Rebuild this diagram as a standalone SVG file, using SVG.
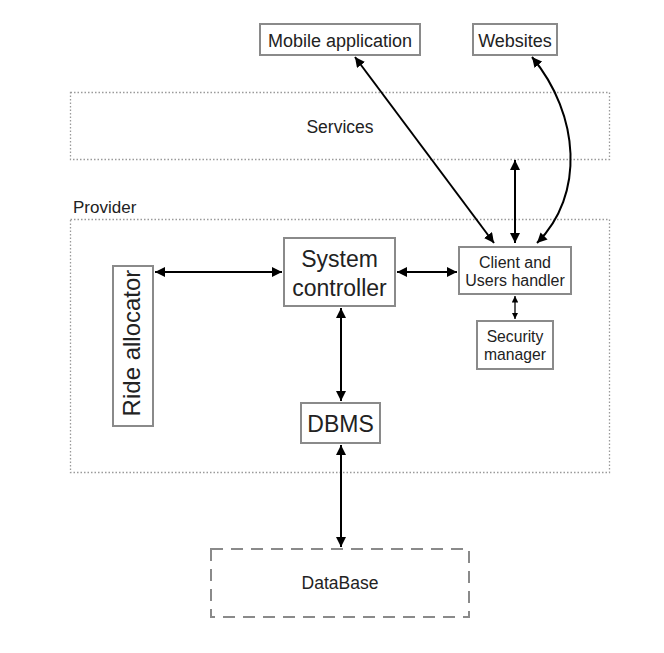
<svg xmlns="http://www.w3.org/2000/svg" width="664" height="653" viewBox="0 0 664 653">
<style>
.box{fill:#fff;stroke:#8a8a8a;stroke-width:2}
.dot{fill:none;stroke:#9a9a9a;stroke-width:1.3;stroke-dasharray:1.5 2}
.dash{fill:none;stroke:#8a8a8a;stroke-width:2;stroke-dasharray:12 8}
.t{font-family:"Liberation Sans",Arial,sans-serif;fill:#222;text-anchor:middle}
.c{fill:none;stroke:#000;stroke-width:2}
.cs{fill:none;stroke:#000;stroke-width:1.3}
</style>
<defs>
<marker id="a" viewBox="0 0 10 10" refX="10" refY="5" markerWidth="5" markerHeight="5" orient="auto-start-reverse" markerUnits="strokeWidth">
<path d="M0,0 L10,5 L0,10 z" fill="#000"/>
</marker>
<marker id="as" viewBox="0 0 10 10" refX="10" refY="5" markerWidth="5" markerHeight="5" orient="auto-start-reverse" markerUnits="strokeWidth">
<path d="M0,0 L10,5 L0,10 z" fill="#000"/>
</marker>
</defs>
<rect width="664" height="653" fill="#fff"/>
<g id="services">
<rect class="dot" x="70.5" y="92.5" width="539" height="67"/>
<text class="t" x="340" y="133" font-size="17.5">Services</text>
</g>
<g id="provider">
<rect class="dot" x="70.5" y="219.5" width="539" height="253"/>
<text class="t" x="73" y="213" font-size="17" style="text-anchor:start">Provider</text>
</g>
<g id="mobile">
<rect class="box" x="260" y="24" width="160" height="31"/>
<text class="t" x="340" y="47" font-size="18">Mobile application</text>
</g>
<g id="websites">
<rect class="box" x="473" y="24" width="84" height="31"/>
<text class="t" x="515" y="47" font-size="18">Websites</text>
</g>
<g id="system-controller">
<rect class="box" x="284" y="238" width="111" height="68"/>
<text class="t" x="339.5" y="267" font-size="23">System</text>
<text class="t" x="339.5" y="296" font-size="23">controller</text>
</g>
<g id="ride-allocator">
<rect class="box" x="113" y="266" width="40" height="160"/>
<text class="t" font-size="24" transform="translate(140,343) rotate(-90)">Ride allocator</text>
</g>
<g id="client">
<rect class="box" x="459" y="247" width="112" height="47"/>
<text class="t" x="515" y="268" font-size="16">Client and</text>
<text class="t" x="515" y="286" font-size="16">Users handler</text>
</g>
<g id="security">
<rect class="box" x="477" y="321" width="76" height="48"/>
<text class="t" x="515" y="342" font-size="15.7">Security</text>
<text class="t" x="515" y="360" font-size="15.7">manager</text>
</g>
<g id="dbms">
<rect class="box" x="301" y="403" width="79" height="40"/>
<text class="t" x="340.5" y="432" font-size="23">DBMS</text>
</g>
<g id="database">
<rect class="dash" x="211" y="549" width="258" height="68"/>
<text class="t" x="340" y="589" font-size="17.5">DataBase</text>
</g>
<g id="connectors">
<line class="c" x1="355" y1="57" x2="494" y2="243" marker-start="url(#a)" marker-end="url(#a)"/>
<line class="c" x1="515" y1="160" x2="515" y2="243" marker-start="url(#a)" marker-end="url(#a)"/>
<path class="c" d="M532,57 C580,115 585,195 537,243" marker-start="url(#a)" marker-end="url(#a)"/>
<line class="c" x1="155" y1="272" x2="282" y2="272" marker-start="url(#a)" marker-end="url(#a)"/>
<line class="c" x1="397" y1="272" x2="457" y2="272" marker-start="url(#a)" marker-end="url(#a)"/>
<line class="c" x1="341" y1="308" x2="341" y2="401" marker-start="url(#a)" marker-end="url(#a)"/>
<line class="cs" x1="515" y1="296" x2="515" y2="319" marker-start="url(#as)" marker-end="url(#as)"/>
<line class="c" x1="341" y1="445" x2="341" y2="547" marker-start="url(#a)" marker-end="url(#a)"/>
</g>
</svg>
